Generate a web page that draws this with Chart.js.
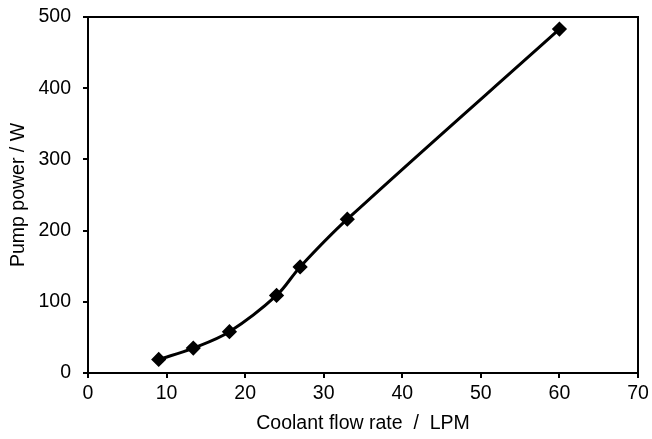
<!DOCTYPE html>
<html>
<head>
<meta charset="utf-8">
<script src="https://cdn.jsdelivr.net/npm/chart.js@4"></script>
<style>
  html, body { margin: 0; padding: 0; background: #fff; }
  #wrap { width: 652px; height: 439px; }
</style>
</head>
<body>
<div id="wrap"><canvas id="c" width="652" height="439"></canvas></div>
<script>
const flowRate = [9, 13.4, 18, 24, 27, 33, 60];
const pumpPower = [19, 35, 58, 109, 149, 216, 483];
const xTicks = [0, 10, 20, 30, 40, 50, 60, 70];
const yTicks = [0, 100, 200, 300, 400, 500];

// frame on top and right of the plot area
const frame = {
  id: "frame",
  afterDraw(chart) {
    const { ctx, chartArea: a } = chart;
    ctx.save();
    ctx.strokeStyle = "#000";
    ctx.lineWidth = 2;
    ctx.strokeRect(a.left, a.top, a.right - a.left, a.bottom - a.top);
    ctx.restore();
  },
};

const font = { family: "'Liberation Sans', Arial, sans-serif", size: 19.5 };

new Chart(document.getElementById("c"), {
  type: "scatter",
  data: {
    datasets: [
      {
        data: flowRate.map((x, i) => ({ x, y: pumpPower[i] })),
        showLine: true,
        borderColor: "#000",
        backgroundColor: "#000",
        borderWidth: 3,
        tension: 0.35,
        pointStyle: "rectRot",
        pointRadius: 5.5,
        pointHoverRadius: 5.5,
      },
    ],
  },
  options: {
    responsive: false,
    animation: false,
    layout: { padding: { top: 17, right: 14, left: 0, bottom: 0 } },
    plugins: { legend: { display: false }, tooltip: { enabled: false } },
    scales: {
      x: {
        type: "linear",
        min: 0,
        max: 70,
        afterBuildTicks: (s) => { s.ticks = xTicks.map((v) => ({ value: v })); },
        afterFit: (s) => { s.height = 66; s.paddingRight = 0; },
        grid: { drawOnChartArea: false, color: "#000", tickLength: 5, lineWidth: 2 },
        border: { color: "#000", width: 2 },
        ticks: { color: "#000", font, padding: 4 },
        title: { display: true, text: "Coolant flow rate  /  LPM", color: "#000", font, padding: { top: 0, bottom: 4 } },
      },
      y: {
        min: 0,
        max: 500,
        afterBuildTicks: (s) => { s.ticks = yTicks.map((v) => ({ value: v })); },
        afterFit: (s) => { s.width = 88; s.paddingTop = 0; s.paddingBottom = 0; },
        grid: { drawOnChartArea: false, color: "#000", tickLength: 5, lineWidth: 2 },
        border: { color: "#000", width: 2 },
        ticks: { color: "#000", font, padding: 12 },
        title: { display: true, text: "Pump power / W", color: "#000", font, padding: { top: 7, bottom: 0 } },
      },
    },
  },
  plugins: [frame],
});
</script>
</body>
</html>
